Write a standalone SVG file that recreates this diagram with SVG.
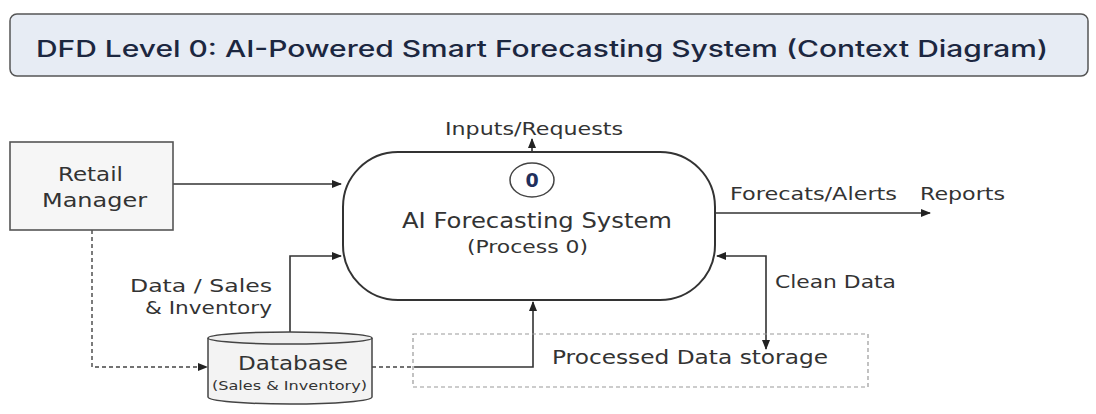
<svg xmlns="http://www.w3.org/2000/svg" width="1096" height="414" viewBox="0 0 1096 414">
<style>
text{font-family:"DejaVu Sans","Liberation Sans",sans-serif;fill:#333}
.c{stroke:#333;stroke-width:1.6;fill:none}
.d{stroke:#444;stroke-width:1.4;fill:none;stroke-dasharray:4 3}
.lbl{font-size:18px}
</style>
<defs>
<marker id="ah" viewBox="0 0 10 10" refX="9" refY="5" markerWidth="10" markerHeight="10" markerUnits="userSpaceOnUse" orient="auto-start-reverse">
<path d="M0,1 L10,5 L0,9 Z" fill="#222"/>
</marker>
</defs>
<rect width="1096" height="414" fill="#ffffff"/>
<g id="title">
<rect x="10" y="14" width="1078" height="62" rx="7" fill="#e7ecf4" stroke="#555" stroke-width="1.5"/>
<text x="36" y="57" font-size="23" font-weight="500" style="fill:#1c2740;font-family:Inter,'DejaVu Sans',sans-serif" textLength="1012" lengthAdjust="spacingAndGlyphs">DFD Level 0: AI-Powered Smart Forecasting System (Context Diagram)</text>
</g>
<g id="connectors">
<line class="c" x1="173" y1="184" x2="341" y2="184" marker-end="url(#ah)"/>
<polyline class="c" points="290,333 290,256 341,256" marker-end="url(#ah)"/>
<polyline class="d" points="92,230 92,367 207,367" marker-end="url(#ah)"/>
<line class="d" x1="372" y1="367" x2="415" y2="367"/>
<polyline class="c" points="415,367 533,367 533,302" marker-end="url(#ah)"/>
<line class="c" x1="532" y1="152" x2="532" y2="139" marker-end="url(#ah)"/>
<line class="c" x1="715" y1="213" x2="930" y2="213" marker-end="url(#ah)"/>
<polyline class="c" points="717,256 766,256 766,349" marker-start="url(#ah)" marker-end="url(#ah)"/>
<text class="lbl" x="445" y="135" textLength="178" lengthAdjust="spacingAndGlyphs">Inputs/Requests</text>
<text class="lbl" x="730" y="200" textLength="167" lengthAdjust="spacingAndGlyphs">Forecats/Alerts</text>
<text class="lbl" x="920" y="200" textLength="85" lengthAdjust="spacingAndGlyphs">Reports</text>
<text class="lbl" x="775" y="288" textLength="121" lengthAdjust="spacingAndGlyphs">Clean Data</text>
<text class="lbl" x="130" y="292" textLength="142" lengthAdjust="spacingAndGlyphs">Data / Sales</text>
<text class="lbl" x="145" y="314" textLength="127" lengthAdjust="spacingAndGlyphs">&amp; Inventory</text>
</g>
<g id="retail-manager">
<rect x="10" y="142" width="163" height="88" fill="#f6f6f6" stroke="#555" stroke-width="1.6"/>
<text x="58" y="181" font-size="20" textLength="65" lengthAdjust="spacingAndGlyphs">Retail</text>
<text x="42" y="207" font-size="20" textLength="105" lengthAdjust="spacingAndGlyphs">Manager</text>
</g>
<g id="process-0">
<rect x="343" y="152" width="372" height="148" rx="55" fill="#ffffff" stroke="#333" stroke-width="2"/>
<ellipse cx="532" cy="180" rx="22" ry="17" fill="#ffffff" stroke="#444" stroke-width="1.5"/>
<text x="532" y="187" font-size="19" font-weight="bold" text-anchor="middle" style="fill:#1f2f5c">0</text>
<text x="402" y="228" font-size="21" textLength="270" lengthAdjust="spacingAndGlyphs">AI Forecasting System</text>
<text x="467" y="253" font-size="18" textLength="121" lengthAdjust="spacingAndGlyphs">(Process 0)</text>
</g>
<g id="database">
<path d="M208,338 L208,397 A82,7 0 0 0 372,397 L372,338" fill="#f3f3f3" stroke="#444" stroke-width="1.5"/>
<ellipse cx="290" cy="338" rx="82" ry="6" fill="#eeeeee" stroke="#444" stroke-width="1.5"/>
<text x="238" y="370" font-size="20" textLength="110" lengthAdjust="spacingAndGlyphs">Database</text>
<text x="212" y="390" font-size="12" textLength="155" lengthAdjust="spacingAndGlyphs">(Sales &amp; Inventory)</text>
</g>
<g id="processed-data-storage">
<rect x="413" y="334" width="455" height="53" fill="none" stroke="#999" stroke-width="1.2" stroke-dasharray="4 3"/>
<text x="552" y="364" font-size="20" textLength="276" lengthAdjust="spacingAndGlyphs">Processed Data storage</text>
</g>
</svg>
